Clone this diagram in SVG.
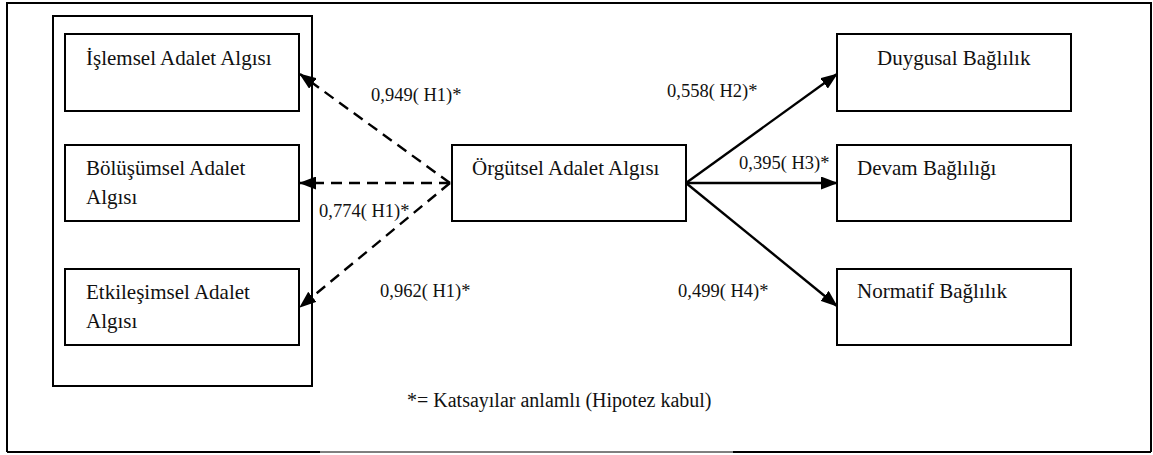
<svg xmlns="http://www.w3.org/2000/svg" width="1153" height="455" viewBox="0 0 1153 455">
<style>
.box{fill:#fff;stroke:#000;stroke-width:2}
.t{font-family:'Liberation Serif',serif;font-size:21px;fill:#111}
.lb{font-family:'Liberation Serif',serif;font-size:18.5px;fill:#111}
.ft{font-family:'Liberation Serif',serif;font-size:20px;fill:#111}
.dash{stroke:#000;stroke-width:2.4;stroke-dasharray:11,7;fill:none}
.solid{stroke:#000;stroke-width:2.4;fill:none}
</style>
<defs>
<marker id="ah" viewBox="0 0 17 13" refX="16" refY="6.5" markerWidth="17" markerHeight="13" markerUnits="userSpaceOnUse" orient="auto">
<path d="M0,0 L17,6.5 L0,13 z" fill="#000"/>
</marker>
</defs>
<rect width="1153" height="455" fill="#fff"/>
<g id="frame">
<path d="M7,452 L7,3 L1151,3 L1151,452" fill="none" stroke="#000" stroke-width="2"/>
<path d="M7,452 L320,452 M733,452 L1151,452" fill="none" stroke="#000" stroke-width="2"/>
<path d="M320,452 L733,452" fill="none" stroke="#000" stroke-width="1"/>
</g>
<g id="left-group">
<rect x="53" y="16" width="259" height="370" fill="none" stroke="#000" stroke-width="2"/>
</g>
<g id="islemsel">
<rect class="box" x="65" y="34" width="234" height="77"/>
<text class="t" x="86" y="65">İşlemsel Adalet Algısı</text>
</g>
<g id="bolusumsel">
<rect class="box" x="65" y="145" width="234" height="76"/>
<text class="t" x="86" y="175">Bölüşümsel Adalet</text>
<text class="t" x="86" y="204">Algısı</text>
</g>
<g id="etkilesimsel">
<rect class="box" x="65" y="269" width="234" height="76"/>
<text class="t" x="86" y="299">Etkileşimsel Adalet</text>
<text class="t" x="86" y="328">Algısı</text>
</g>
<g id="orgutsel">
<rect class="box" x="452" y="145" width="234" height="76"/>
<text class="t" x="472" y="175">Örgütsel Adalet Algısı</text>
</g>
<g id="duygusal">
<rect class="box" x="837" y="34" width="234" height="77"/>
<text class="t" x="877" y="65">Duygusal Bağlılık</text>
</g>
<g id="devam">
<rect class="box" x="837" y="145" width="234" height="76"/>
<text class="t" x="857" y="175">Devam Bağlılığı</text>
</g>
<g id="normatif">
<rect class="box" x="837" y="269" width="234" height="76"/>
<text class="t" x="857" y="298">Normatif Bağlılık</text>
</g>
<g id="connectors">
<line class="dash" x1="450" y1="183" x2="300" y2="74" marker-end="url(#ah)"/>
<line class="dash" x1="450" y1="183" x2="300" y2="183" marker-end="url(#ah)"/>
<line class="dash" x1="450" y1="183" x2="300" y2="307" marker-end="url(#ah)"/>
<line class="solid" x1="686" y1="183" x2="837" y2="74" marker-end="url(#ah)"/>
<line class="solid" x1="686" y1="183" x2="837" y2="183" marker-end="url(#ah)"/>
<line class="solid" x1="686" y1="183" x2="837" y2="306" marker-end="url(#ah)"/>
</g>
<g id="labels">
<text class="lb" x="371" y="101">0,949( H1)*</text>
<text class="lb" x="319" y="217">0,774( H1)*</text>
<text class="lb" x="380" y="297">0,962( H1)*</text>
<text class="lb" x="667" y="97">0,558( H2)*</text>
<text class="lb" x="739" y="169">0,395( H3)*</text>
<text class="lb" x="678" y="297">0,499( H4)*</text>
<text class="ft" x="407" y="407">*= Katsayılar anlamlı (Hipotez kabul)</text>
</g>
</svg>
